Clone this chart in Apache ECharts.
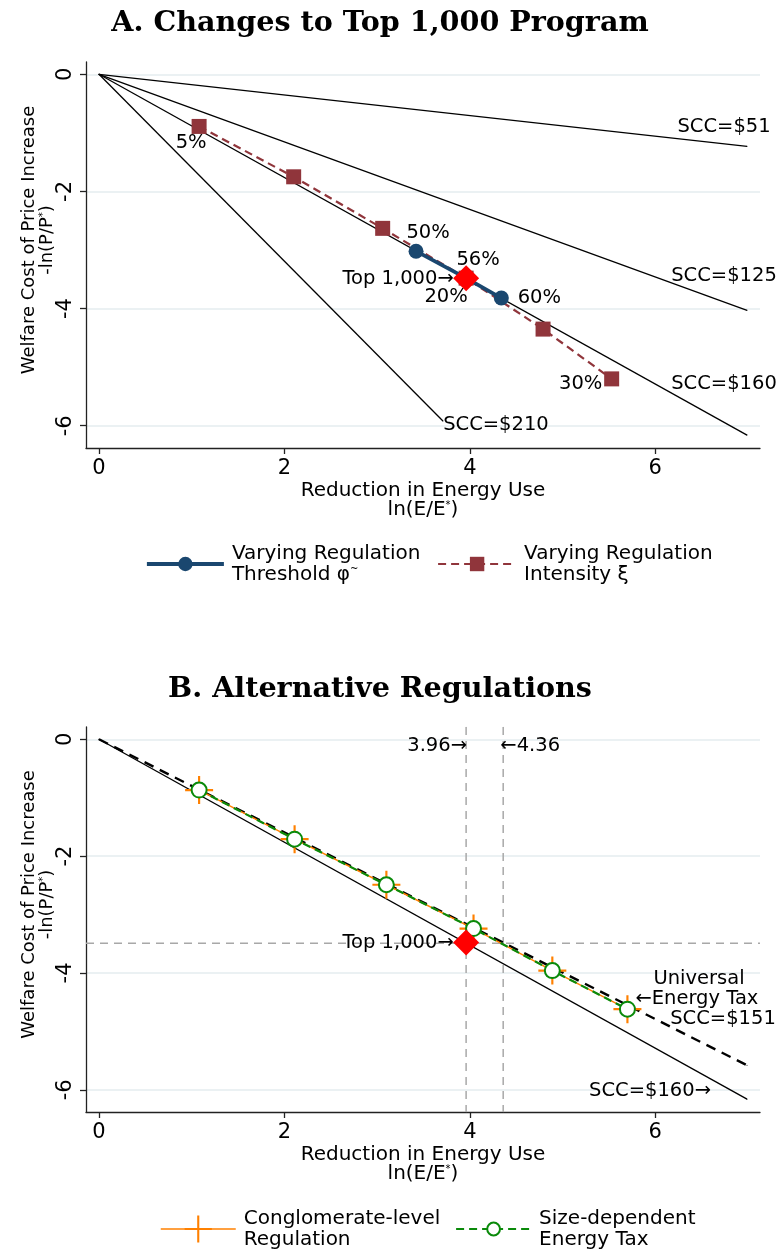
<!DOCTYPE html>
<html lang="en">
<head>
<meta charset="UTF-8">
<title>Top 1,000 Program</title>
<script src="https://cdn.jsdelivr.net/npm/echarts@6/dist/echarts.min.js"></script>
<style>html,body{margin:0;padding:0;background:#fff;}</style>
</head>
<body>
<div id="main" style="width:780px;height:1249px;"></div>
<script>
// ---- data, panel A ----
var sccNames = ['SCC=$51', 'SCC=$125', 'SCC=$160', 'SCC=$210'];
var sccEndX = [6.99, 6.99, 6.99, 3.71];
var sccEndY = [-1.23, -4.03, -6.16, -5.92];

var thrX = [3.42, 3.96, 4.34];
var thrY = [-3.02, -3.48, -3.82];
var thrLabels = ['50%', '56%', '60%'];

var intX = [1.08, 2.10, 3.06, 3.96, 4.79, 5.53];
var intY = [-0.89, -1.75, -2.63, -3.48, -4.35, -5.20];
var intLabels = ['5%', '', '', '20%', '', '30%'];

var top1000 = [3.96, -3.48];

// ---- data, panel B ----
var condX = [1.08, 2.11, 3.10, 4.04, 4.89, 5.70];
var condY = [-0.87, -1.71, -2.49, -3.24, -3.96, -4.62];
var taxX = [1.08, 2.11, 3.10, 4.04, 4.89, 5.70];
var taxY = [-0.87, -1.71, -2.49, -3.24, -3.96, -4.62];
var uniEnd = [6.99, -5.58];
var scc160End = [6.99, -6.16];
var refX = [3.96, 4.36];
var refXLabels = ['3.96\u2192', '\u21904.36'];
var refY = -3.49;

var xTicks = [0, 2, 4, 6];
var yTicks = [0, -2, -4, -6];
var xMin = -0.14, xMax = 7.13, yMin = -6.38, yMax = 0.21;

// ---- styles ----
var FONT = 'DejaVu Sans';
var txt = { color: '#000', fontFamily: FONT, fontSize: 19.5 };
var labelOff = {
  'SCC=$51': [-23, -19], 'SCC=$125': [-23, -34], 'SCC=$160': [-23, -51], 'SCC=$210': [53, 4],
  '5%': [-8, 17], '50%': [12, -18], '56%': [12, -18], '20%': [-20, 19], '60%': [38, 0], '30%': [-31, 5],
  '3.96\u2192': [-29, 19], '\u21904.36': [27, 19]
};

function lab(text, off) {
  return Object.assign({ show: true, formatter: text, position: 'inside', offset: off }, txt);
}
function supRich(lh) {
  return { sup: { fontSize: 10, verticalAlign: 'top', lineHeight: lh, fontFamily: FONT, color: '#000' } };
}

function xAx(gi) {
  return {
    gridIndex: gi, type: 'value', min: xMin, max: xMax,
    axisLine: { onZero: false, lineStyle: { color: '#222', width: 1.3 } },
    axisTick: { customValues: xTicks, length: 6, lineStyle: { color: '#222', width: 1.3 } },
    axisLabel: Object.assign({}, txt, { customValues: xTicks, margin: 10, fontSize: 21 }),
    splitLine: { show: false },
    name: 'Reduction in Energy Use\nln(E/E{sup|*})',
    nameLocation: 'middle', nameGap: 33, nameMoveOverlap: false,
    nameTextStyle: Object.assign({}, txt, { fontSize: 20, lineHeight: 19, rich: supRich(19) })
  };
}
function yAx(gi) {
  return {
    gridIndex: gi, type: 'value', min: yMin, max: yMax,
    axisLine: { show: true, onZero: false, lineStyle: { color: '#222', width: 1.3 } },
    axisTick: { show: true, customValues: yTicks, length: 6, lineStyle: { color: '#222', width: 1.3 } },
    axisLabel: Object.assign({}, txt, { customValues: yTicks, rotate: 90, margin: 10, fontSize: 21 }),
    splitLine: { show: true, lineStyle: { color: '#e4ecef', width: 1.5 } },
    name: 'Welfare Cost of Price Increase\n-ln(P/P{sup|*})',
    nameLocation: 'middle', nameGap: 30, nameRotate: 90, nameMoveOverlap: false,
    nameTextStyle: Object.assign({}, txt, { fontSize: 18, lineHeight: 18, padding: [0, 0, 0, 30], rich: supRich(18) })
  };
}

var series = [];

// panel A: SCC lines
sccNames.forEach(function (nm, i) {
  series.push({
    type: 'line', xAxisIndex: 0, yAxisIndex: 0, z: 2,
    data: [[0, 0], { value: [sccEndX[i], sccEndY[i]], label: lab(nm, labelOff[nm]) }],
    symbol: 'circle', symbolSize: 1, showSymbol: true,
    lineStyle: { color: '#000', width: 1.3 }, itemStyle: { color: '#000' },
    label: { show: false }
  });
});

series.push({
  name: 'int', type: 'line', xAxisIndex: 0, yAxisIndex: 0, z: 3,
  data: intX.map(function (x, i) {
    var d = { value: [x, intY[i]] };
    if (intLabels[i]) d.label = lab(intLabels[i], labelOff[intLabels[i]]);
    return d;
  }),
  symbol: 'rect', symbolSize: 15,
  lineStyle: { color: '#90353b', width: 2.2, type: [8, 5] },
  itemStyle: { color: '#90353b' },
  label: { show: false }
});

series.push({
  name: 'thr', type: 'line', xAxisIndex: 0, yAxisIndex: 0, z: 4,
  data: thrX.map(function (x, i) {
    return { value: [x, thrY[i]], label: lab(thrLabels[i], labelOff[thrLabels[i]]) };
  }),
  symbol: 'circle', symbolSize: 15,
  lineStyle: { color: '#1a476f', width: 3.8 },
  itemStyle: { color: '#1a476f' },
  label: { show: false }
});

series.push({
  type: 'scatter', xAxisIndex: 0, yAxisIndex: 0, z: 6,
  data: [top1000], symbol: 'diamond', symbolSize: 26,
  itemStyle: { color: '#ff0000', opacity: 1 },
  label: lab('Top 1,000\u2192', [-68, 1])
});

// panel B
series.push({
  type: 'line', xAxisIndex: 1, yAxisIndex: 1, z: 2,
  data: [[0, 0], { value: scc160End, label: lab('SCC=$160\u2192', [-97, -8]) }],
  symbol: 'circle', symbolSize: 1,
  lineStyle: { color: '#000', width: 1.3 }, itemStyle: { color: '#000' },
  label: { show: false }
});
series.push({
  type: 'line', xAxisIndex: 1, yAxisIndex: 1, z: 2,
  data: [[0, 0], { value: uniEnd, label: lab('SCC=$151', [-24, -46]) }],
  symbol: 'circle', symbolSize: 1,
  lineStyle: { color: '#000', width: 2.4, type: [10, 7] }, itemStyle: { color: '#000' },
  label: { show: false }
});
refX.forEach(function (x, i) {
  series.push({
    type: 'line', xAxisIndex: 1, yAxisIndex: 1, z: 1,
    data: [{ value: [x, yMax], label: lab(refXLabels[i], labelOff[refXLabels[i]]) }, [x, yMin]],
    symbol: 'circle', symbolSize: 0.5,
    lineStyle: { color: '#a8a8a8', width: 1.5, type: [8, 6] }, itemStyle: { color: '#a8a8a8' },
    label: { show: false }
  });
});
series.push({
  type: 'line', xAxisIndex: 1, yAxisIndex: 1, z: 1,
  data: [[xMin, refY], [xMax, refY]], symbol: 'none',
  lineStyle: { color: '#a8a8a8', width: 1.5, type: [8, 6] }
});
series.push({
  name: 'cond', type: 'line', xAxisIndex: 1, yAxisIndex: 1, z: 3,
  data: condX.map(function (x, i) { return [x, condY[i]]; }),
  symbol: 'path://M12,0h2v26h-2z M0,12h26v2h-26z', symbolSize: 28,
  lineStyle: { color: '#ff8000', width: 1.5 },
  itemStyle: { color: '#ff8000' }
});
series.push({
  name: 'tax', type: 'line', xAxisIndex: 1, yAxisIndex: 1, z: 4,
  data: taxX.map(function (x, i) {
    var d = { value: [x, taxY[i]] };
    if (i === taxX.length - 1) {
      d.label = Object.assign({}, txt, {
        show: true, position: 'inside', offset: [8, -20], align: 'left', lineHeight: 20,
        formatter: '{ind| }Universal\n\u2190Energy Tax',
        rich: { ind: { width: 18 } }
      });
    }
    return d;
  }),
  symbol: 'emptyCircle', symbolSize: 15,
  lineStyle: { color: '#0a8a0a', width: 2.2, type: [8, 5] },
  itemStyle: { color: '#0a8a0a', borderWidth: 1.8 },
  label: { show: false }
});
series.push({
  type: 'scatter', xAxisIndex: 1, yAxisIndex: 1, z: 6,
  data: [top1000], symbol: 'diamond', symbolSize: 26,
  itemStyle: { color: '#ff0000', opacity: 1 },
  label: lab('Top 1,000\u2192', [-68, 0])
});

var legendNames = {
  thr: 'Varying Regulation\nThreshold \u03c6{sup|~}',
  int: 'Varying Regulation\nIntensity \u03be',
  cond: 'Conglomerate-level\nRegulation',
  tax: 'Size-dependent\nEnergy Tax'
};
function leg(name, left, top, w, h, ls) {
  return {
    data: [name], left: left, top: top, itemWidth: w, itemHeight: h, padding: 0, itemGap: 0,
    selectedMode: false, lineStyle: ls,
    formatter: function (n) { return legendNames[n]; },
    textStyle: Object.assign({}, txt, { fontSize: 20, lineHeight: 21, padding: [0, 0, 0, 3], rich: supRich(21) })
  };
}

var myChart = echarts.init(document.getElementById('main'));
myChart.setOption({
  backgroundColor: '#fff',
  animation: false,
  title: [
    { text: 'A. Changes to Top 1,000 Program', left: 375, top: 4, textAlign: 'center',
      textStyle: { fontFamily: 'DejaVu Serif', fontWeight: 'bold', fontSize: 28.6, color: '#000' } },
    { text: 'B. Alternative Regulations', left: 375, top: 670, textAlign: 'center',
      textStyle: { fontFamily: 'DejaVu Serif', fontWeight: 'bold', fontSize: 28.6, color: '#000' } }
  ],
  grid: [
    { left: 86, right: 20, top: 62, bottom: 801 },
    { left: 86, right: 20, top: 727, bottom: 137 }
  ],
  xAxis: [xAx(0), xAx(1)],
  yAxis: [yAx(0), yAx(1)],
  legend: [
    leg('thr', 145, 543, 77, 18, { width: 3.8 }),
    leg('int', 437, 543, 78, 18, { width: 2.2 }),
    leg('cond', 160, 1208, 75, 34, { width: 1.5 }),
    leg('tax', 455, 1208, 75, 16, { width: 2.2 })
  ],
  series: series
});
</script>
</body>
</html>
